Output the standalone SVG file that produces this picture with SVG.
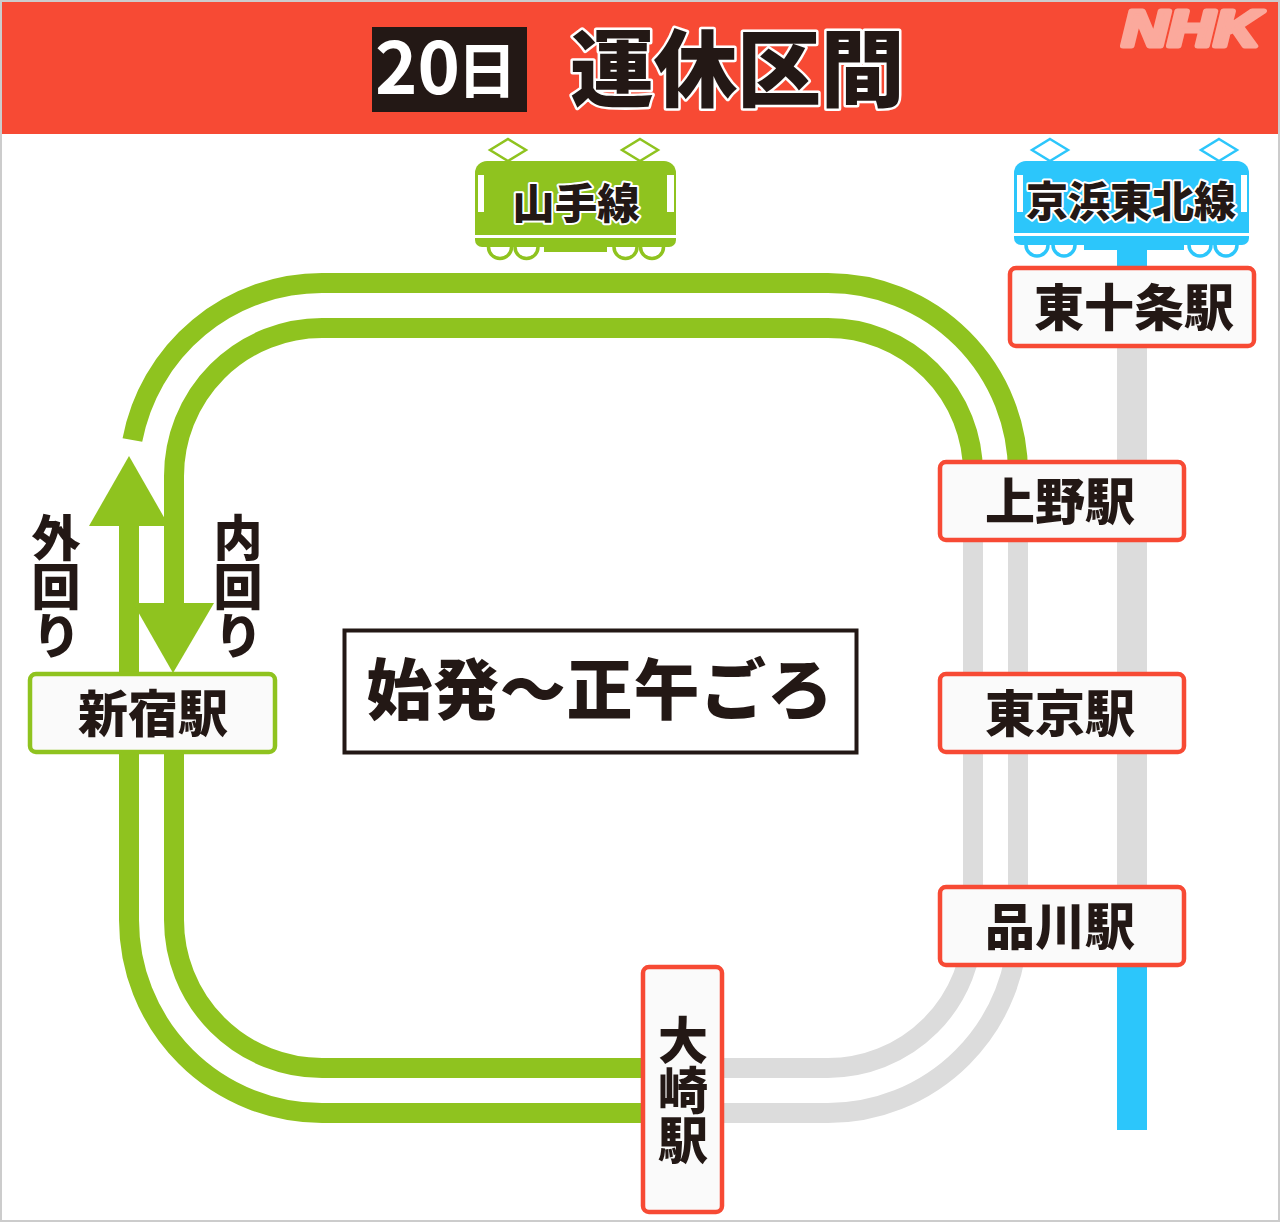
<svg xmlns="http://www.w3.org/2000/svg" width="1280" height="1222" viewBox="0 0 1280 1222">
<style>
text{font-family:"Noto Sans CJK JP","Noto Sans CJK SC",sans-serif;font-weight:700;fill:#231815}
.st{font-size:50px;text-anchor:middle;font-weight:900}
.train{font-size:42.5px;text-anchor:middle;stroke:#fff;stroke-width:4px;paint-order:stroke;stroke-linejoin:round;font-weight:900}
.v{font-size:49px;writing-mode:vertical-rl;text-orientation:upright;text-anchor:start;font-weight:900}
.box{fill:#fafafa;stroke-width:4.500px}
.r{stroke:#f74a34}
.g{stroke:#8fc31f}
.trk{fill:none;stroke-width:20px}
.gt{stroke:#8fc31f}
.gr{stroke:#dcdcdc}
.pg{fill:#fff;stroke:#8fc31f;stroke-width:2.5px}
.pb{fill:#fff;stroke:#2cc6fb;stroke-width:2.5px}
.wg{fill:#fff;stroke:#8fc31f;stroke-width:3.5px}
.wb{fill:#fff;stroke:#2cc6fb;stroke-width:3.5px}
</style>
<rect width="1280" height="1222" fill="#ccc"/>
<rect x="2" y="2" width="1276" height="1218" fill="#fff"/>
<g id="header">
<rect x="2" y="2" width="1276" height="132" fill="#f74a34"/>
<rect x="372" y="27" width="155" height="85" fill="#231815"/>
<text x="375" y="94" style="fill:#fff;font-weight:700"><tspan font-size="72">20</tspan><tspan font-size="60" dx="-3" dy="-1">日</tspan></text>
<text x="570" y="100" font-size="84" letter-spacing="-0.5" style="stroke:#fff;stroke-width:5px;paint-order:stroke;stroke-linejoin:round;font-weight:900">運休区間</text>
<text x="1122" y="46" font-size="50" textLength="138" lengthAdjust="spacingAndGlyphs" style="font-family:'Liberation Sans',sans-serif;font-weight:700;font-style:italic;fill:#fba99c;stroke:#fba99c;stroke-width:5px;stroke-linejoin:round">NHK</text>
</g>
<g id="connectors">
<path class="trk gr" d="M1018 460V923A190 190 0 0 1 828 1113H700"/>
<path class="trk gr" d="M973 460V923A145 145 0 0 1 828 1068H700"/>
<path class="trk gt" d="M132.400 440A193 193 0 0 1 322 283H828A190 190 0 0 1 1018 473V480"/>
<path class="trk gt" d="M174 620V476A148 148 0 0 1 322 328H828A145 145 0 0 1 973 473V480"/>
<path class="trk gt" d="M129 526V920A193 193 0 0 0 322 1113H680"/>
<path class="trk gt" d="M174 740V920A148 148 0 0 0 322 1068H680"/>
<polygon points="89,526 169,526 129,456" fill="#8fc31f"/>
<polygon points="133,603 214,603 173,673" fill="#8fc31f"/>
<rect x="1117" y="240" width="30" height="890" fill="#2cc6fb"/>
<rect x="1117" y="340" width="30" height="620" fill="#dcdcdc"/>
</g>
<g id="train-yamanote">
<path d="M544 240H607V252H544Z" fill="#8fc31f"/>
<circle class="wg" cx="500" cy="247" r="11.500"/><circle class="wg" cx="526.500" cy="247" r="11.500"/><circle class="wg" cx="625.500" cy="247" r="11.500"/><circle class="wg" cx="652" cy="247" r="11.500"/>
<path d="M475 240V173A12 12 0 0 1 487 161H664A12 12 0 0 1 676 173V240A7 7 0 0 1 669 247H482A7 7 0 0 1 475 240Z" fill="#8fc31f"/>
<rect x="475" y="235" width="201" height="3" fill="#fff"/>
<rect x="478" y="175" width="6" height="37" fill="#fff"/><rect x="667" y="175" width="7" height="37" fill="#fff"/>
<polygon class="pg" points="508,139 526,150 508,161 490,150"/><polygon class="pg" points="640,139 658,150 640,161 622,150"/>
<text class="train" x="576" y="219">山手線</text>
</g>
<g id="train-keihin">
<path d="M1084 240H1184V250H1084Z" fill="#2cc6fb"/>
<circle class="wb" cx="1037" cy="245" r="11"/><circle class="wb" cx="1064" cy="245" r="11"/><circle class="wb" cx="1200" cy="245" r="11"/><circle class="wb" cx="1226" cy="245" r="11"/>
<path d="M1014 238V173A12 12 0 0 1 1026 161H1237A12 12 0 0 1 1249 173V238A7 7 0 0 1 1242 245H1021A7 7 0 0 1 1014 238Z" fill="#2cc6fb"/>
<rect x="1014" y="233" width="235" height="3" fill="#fff"/>
<rect x="1017" y="175" width="6" height="37" fill="#fff"/><rect x="1241" y="175" width="6" height="37" fill="#fff"/>
<polygon class="pb" points="1050,139 1068,150 1050,161 1032,150"/><polygon class="pb" points="1219,139 1237,150 1219,161 1201,150"/>
<text class="train" x="1131" y="217" style="font-size:42px">京浜東北線</text>
</g>
<g id="st-higashijujo"><rect class="box r" x="1010" y="268" width="244" height="78" rx="6"/><text class="st" x="1134" y="326">東十条駅</text></g>
<g id="st-ueno"><rect class="box r" x="940" y="462" width="244" height="78" rx="6"/><text class="st" x="1060" y="520">上野駅</text></g>
<g id="st-tokyo"><rect class="box r" x="940" y="674" width="244" height="78" rx="6"/><text class="st" x="1060" y="732">東京駅</text></g>
<g id="st-shinagawa"><rect class="box r" x="940" y="887" width="244" height="78" rx="6"/><text class="st" x="1060" y="945">品川駅</text></g>
<g id="st-shinjuku"><rect class="box g" x="30" y="674" width="245" height="78" rx="6"/><text class="st" x="153" y="732">新宿駅</text></g>
<g id="st-osaki"><rect class="box r" x="643" y="967" width="79" height="245" rx="6"/><text class="st" x="683" y="1015" style="writing-mode:vertical-rl;text-orientation:upright;text-anchor:start">大崎駅</text></g>
<g id="label-soto"><text class="v" x="56" y="513">外回り</text></g>
<g id="label-uchi"><text class="v" x="238" y="513">内回り</text></g>
<g id="note"><rect x="344.500" y="630.500" width="512" height="122" fill="#fff" stroke="#231815" stroke-width="4"/><text x="600" y="714" font-size="66" text-anchor="middle" letter-spacing="0.8" style="font-weight:900">始発～正午ごろ</text></g>
</svg>
